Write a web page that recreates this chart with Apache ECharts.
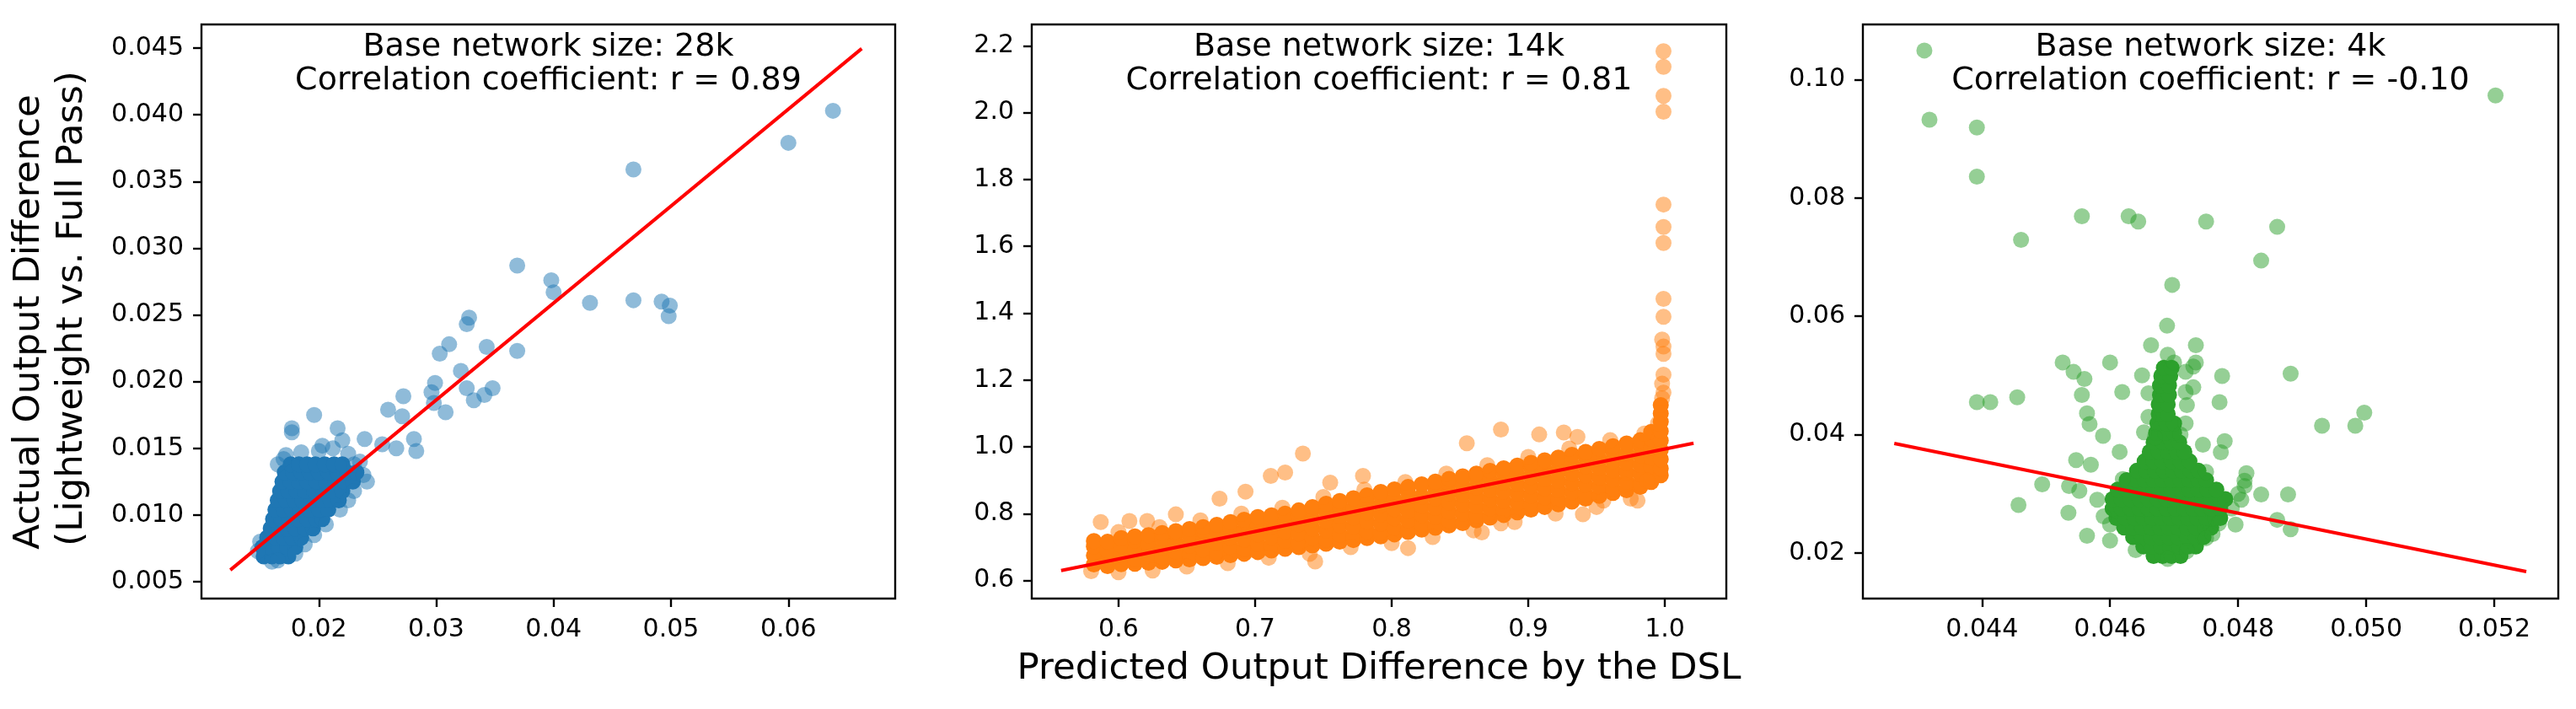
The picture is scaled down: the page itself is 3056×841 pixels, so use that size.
<!DOCTYPE html>
<html>
<head>
<meta charset="utf-8">
<script src="https://cdn.jsdelivr.net/npm/echarts@6/dist/echarts.min.js"></script>
<style>
  html, body { margin: 0; padding: 0; background: #fff; }
  #main { width: 3056px; height: 841px; }
</style>
</head>
<body>
<div id="main"></div>
<script>
// ---- panel 1: 28k network (blue) ----
const p1XTicks = [0.02, 0.03, 0.04, 0.05, 0.06];
const p1YTicks = [0.005, 0.010, 0.015, 0.020, 0.025, 0.030, 0.035, 0.040, 0.045];
// dense blob, rows of [y, [x...]]
const p1CoreRows = [
  [0.0069, [0.0153, 0.0160, 0.0167, 0.0174]],
  [0.0076, [0.0152, 0.0159, 0.0166, 0.0173, 0.0180]],
  [0.0083, [0.0156, 0.0163, 0.0170, 0.0177, 0.0185]],
  [0.0090, [0.0159, 0.0166, 0.0173, 0.0180, 0.0188, 0.0195]],
  [0.0097, [0.0161, 0.0168, 0.0175, 0.0182, 0.0190, 0.0198, 0.0203]],
  [0.0104, [0.0163, 0.0170, 0.0177, 0.0184, 0.0192, 0.0200, 0.0208]],
  [0.0111, [0.0165, 0.0172, 0.0179, 0.0186, 0.0194, 0.0202, 0.0210, 0.0217]],
  [0.0118, [0.0167, 0.0174, 0.0181, 0.0188, 0.0196, 0.0204, 0.0212, 0.0220]],
  [0.0125, [0.0169, 0.0176, 0.0183, 0.0190, 0.0198, 0.0206, 0.0214, 0.0222, 0.0229]],
  [0.0132, [0.0171, 0.0178, 0.0185, 0.0192, 0.0200, 0.0208, 0.0216, 0.0224, 0.0232]],
  [0.0138, [0.0176, 0.0183, 0.0190, 0.0197, 0.0205, 0.0213, 0.0220]]
];
const p1Pts = [
  [0.0638, 0.0403], [0.0600, 0.0379], [0.0468, 0.0359], [0.0369, 0.0287], [0.0398, 0.0276],
  [0.0400, 0.0267], [0.0431, 0.0259], [0.0468, 0.0261], [0.0492, 0.0260], [0.0499, 0.0257],
  [0.0498, 0.0249], [0.0328, 0.0248], [0.0326, 0.0243], [0.0311, 0.0228], [0.0303, 0.0221],
  [0.0343, 0.0226], [0.0369, 0.0223], [0.0321, 0.0208], [0.0299, 0.0199], [0.0296, 0.0192],
  [0.0326, 0.0195], [0.0348, 0.0195], [0.0341, 0.0190], [0.0332, 0.0186], [0.0298, 0.0184],
  [0.0308, 0.0177], [0.0272, 0.0189], [0.0259, 0.0179], [0.0271, 0.0174], [0.0196, 0.0175],
  [0.0216, 0.0165], [0.0177, 0.0165], [0.0177, 0.0162], [0.0239, 0.0157], [0.0203, 0.0152],
  [0.0220, 0.0156], [0.0254, 0.0153], [0.0266, 0.0150], [0.0281, 0.0157], [0.0283, 0.0148],
  [0.0230, 0.0138], [0.0241, 0.0125], [0.0225, 0.0111],
  [0.0172, 0.0145], [0.0185, 0.0147], [0.0200, 0.0148], [0.0212, 0.0150], [0.0225, 0.0146],
  [0.0235, 0.0140], [0.0238, 0.0130], [0.0230, 0.0118], [0.0218, 0.0104], [0.0206, 0.0093],
  [0.0196, 0.0085], [0.0188, 0.0078], [0.0180, 0.0071], [0.0148, 0.0073], [0.0150, 0.0080],
  [0.0160, 0.0065], [0.0165, 0.0066], [0.0165, 0.0138], [0.0170, 0.0142]
];
const p1Fit = [[0.01246, 0.00588], [0.06625, 0.04496]];

// ---- panel 2: 14k network (orange) ----
const p2XTicks = [0.6, 0.7, 0.8, 0.9, 1.0];
const p2YTicks = [0.6, 0.8, 1.0, 1.2, 1.4, 1.6, 1.8, 2.0, 2.2];
// dense band, columns of [x, [y...]]
const p2CoreCols = [
  [0.582, [0.648, 0.675, 0.702, 0.718]],
  [0.592, [0.643, 0.661, 0.689, 0.716]],
  [0.602, [0.649, 0.677, 0.705, 0.727]],
  [0.612, [0.650, 0.664, 0.692, 0.720, 0.732]],
  [0.622, [0.653, 0.680, 0.708, 0.736]],
  [0.632, [0.656, 0.670, 0.698, 0.726, 0.742]],
  [0.642, [0.660, 0.686, 0.714, 0.742, 0.748]],
  [0.652, [0.663, 0.677, 0.705, 0.733, 0.754]],
  [0.662, [0.667, 0.693, 0.721, 0.749, 0.760]],
  [0.672, [0.671, 0.685, 0.713, 0.741, 0.767]],
  [0.682, [0.676, 0.701, 0.729, 0.757, 0.775]],
  [0.692, [0.680, 0.694, 0.722, 0.750, 0.778, 0.782]],
  [0.702, [0.685, 0.710, 0.738, 0.766, 0.790]],
  [0.712, [0.690, 0.703, 0.731, 0.759, 0.787, 0.795]],
  [0.722, [0.695, 0.719, 0.747, 0.775, 0.800]],
  [0.732, [0.700, 0.712, 0.740, 0.768, 0.796, 0.810]],
  [0.742, [0.705, 0.728, 0.756, 0.784, 0.812, 0.820]],
  [0.752, [0.710, 0.722, 0.750, 0.778, 0.806, 0.830]],
  [0.762, [0.716, 0.738, 0.766, 0.794, 0.822, 0.838]],
  [0.772, [0.721, 0.732, 0.760, 0.788, 0.816, 0.846]],
  [0.782, [0.727, 0.748, 0.776, 0.804, 0.832, 0.855]],
  [0.792, [0.732, 0.742, 0.770, 0.798, 0.826, 0.854, 0.865]],
  [0.802, [0.738, 0.758, 0.786, 0.814, 0.842, 0.873]],
  [0.812, [0.745, 0.752, 0.780, 0.808, 0.836, 0.864, 0.880]],
  [0.822, [0.752, 0.768, 0.796, 0.824, 0.852, 0.888]],
  [0.832, [0.758, 0.762, 0.790, 0.818, 0.846, 0.874, 0.896]],
  [0.842, [0.765, 0.778, 0.806, 0.834, 0.862, 0.890, 0.904]],
  [0.852, [0.772, 0.800, 0.828, 0.856, 0.884, 0.912]],
  [0.862, [0.780, 0.794, 0.822, 0.850, 0.878, 0.906, 0.920]],
  [0.872, [0.788, 0.816, 0.844, 0.872, 0.900, 0.928]],
  [0.882, [0.796, 0.810, 0.838, 0.866, 0.894, 0.922, 0.936]],
  [0.892, [0.804, 0.832, 0.860, 0.888, 0.916, 0.944]],
  [0.902, [0.812, 0.826, 0.854, 0.882, 0.910, 0.938, 0.952]],
  [0.912, [0.820, 0.848, 0.876, 0.904, 0.932, 0.960]],
  [0.922, [0.828, 0.842, 0.870, 0.898, 0.926, 0.954, 0.968]],
  [0.932, [0.836, 0.864, 0.892, 0.920, 0.948, 0.976]],
  [0.942, [0.845, 0.858, 0.886, 0.914, 0.942, 0.970, 0.985]],
  [0.952, [0.853, 0.880, 0.908, 0.936, 0.964, 0.994]],
  [0.962, [0.862, 0.874, 0.902, 0.930, 0.958, 0.986, 1.002]],
  [0.972, [0.870, 0.896, 0.924, 0.952, 0.980, 1.010]],
  [0.982, [0.880, 0.890, 0.918, 0.946, 0.974, 1.002, 1.020]],
  [0.990, [0.895, 0.912, 0.940, 0.968, 0.996, 1.024, 1.045]],
  [0.997, [0.915, 0.935, 0.963, 0.991, 1.019, 1.047, 1.075, 1.100, 1.125]]
];
const p2Pts = [
  [0.999, 2.184], [0.999, 2.137], [0.999, 2.050], [0.999, 2.003], [0.999, 1.725],
  [0.999, 1.658], [0.999, 1.610], [0.999, 1.443], [0.999, 1.389], [0.998, 1.321],
  [0.999, 1.300], [0.999, 1.278], [0.999, 1.216], [0.998, 1.189], [0.999, 1.162], [0.998, 1.145],
  [0.735, 0.980], [0.722, 0.923], [0.7115, 0.913], [0.693, 0.866], [0.855, 1.011],
  [0.880, 1.052], [0.908, 1.037], [0.926, 1.043], [0.936, 1.030], [0.587, 0.775],
  [0.608, 0.778], [0.621, 0.778], [0.642, 0.798], [0.674, 0.845], [0.755, 0.893],
  [0.779, 0.913], [0.744, 0.657], [0.812, 0.697], [0.866, 0.744], [0.880, 0.771],
  [0.940, 0.798], [0.955, 0.839], [0.971, 0.886], [0.980, 0.839], [0.987, 0.899],
  [0.580, 0.628], [0.600, 0.625], [0.625, 0.630], [0.650, 0.642], [0.680, 0.652],
  [0.710, 0.668], [0.740, 0.680], [0.770, 0.700], [0.800, 0.712], [0.830, 0.730],
  [0.860, 0.750], [0.890, 0.775], [0.920, 0.800], [0.950, 0.820], [0.975, 0.845],
  [0.600, 0.745], [0.630, 0.760], [0.660, 0.780], [0.690, 0.800], [0.720, 0.818],
  [0.750, 0.850], [0.780, 0.872], [0.810, 0.895], [0.840, 0.920], [0.870, 0.945],
  [0.900, 0.970], [0.930, 0.995], [0.960, 1.020], [0.985, 1.040], [0.995, 1.070]
];
const p2Fit = [[0.558, 0.630], [1.021, 1.011]];

// ---- panel 3: 4k network (green) ----
const p3XTicks = [0.044, 0.046, 0.048, 0.050, 0.052];
const p3YTicks = [0.02, 0.04, 0.06, 0.08, 0.10];
const p3CoreRows = [
  [0.0195, [0.04668, 0.04682, 0.04696, 0.04710]],
  [0.0211, [0.04652, 0.04666, 0.04680, 0.04694, 0.04708, 0.04722, 0.04734]],
  [0.0227, [0.04636, 0.04650, 0.04664, 0.04678, 0.04692, 0.04706, 0.04720, 0.04734, 0.04746]],
  [0.0243, [0.04622, 0.04636, 0.04650, 0.04664, 0.04678, 0.04692, 0.04706, 0.04720, 0.04734, 0.04748, 0.04758]],
  [0.0259, [0.04610, 0.04624, 0.04638, 0.04652, 0.04666, 0.04680, 0.04694, 0.04708, 0.04722, 0.04736, 0.04750, 0.04764, 0.04772]],
  [0.0275, [0.04604, 0.04618, 0.04632, 0.04646, 0.04660, 0.04674, 0.04688, 0.04702, 0.04716, 0.04730, 0.04744, 0.04758, 0.04772]],
  [0.0291, [0.04604, 0.04618, 0.04632, 0.04646, 0.04660, 0.04674, 0.04688, 0.04702, 0.04716, 0.04730, 0.04744, 0.04758, 0.04772, 0.04780]],
  [0.0307, [0.04612, 0.04626, 0.04640, 0.04654, 0.04668, 0.04682, 0.04696, 0.04710, 0.04724, 0.04738, 0.04752, 0.04766]],
  [0.0323, [0.04626, 0.04640, 0.04654, 0.04668, 0.04682, 0.04696, 0.04710, 0.04724, 0.04738, 0.04750]],
  [0.0339, [0.04642, 0.04656, 0.04670, 0.04684, 0.04698, 0.04712, 0.04726, 0.04738]],
  [0.0355, [0.04654, 0.04668, 0.04682, 0.04696, 0.04710, 0.04724]],
  [0.0371, [0.04662, 0.04676, 0.04690, 0.04704, 0.04716]],
  [0.0387, [0.04668, 0.04682, 0.04696, 0.04708]],
  [0.0403, [0.04672, 0.04686, 0.04700]],
  [0.0419, [0.04674, 0.04688, 0.04700]],
  [0.0435, [0.04676, 0.04690]],
  [0.0451, [0.04676, 0.04690]],
  [0.0467, [0.04678, 0.04692]],
  [0.0483, [0.04678, 0.04692]],
  [0.0499, [0.04680, 0.04694]],
  [0.0513, [0.04684, 0.04696]]
];
const p3Pts = [
  [0.04310, 0.1049], [0.04318, 0.0932], [0.04392, 0.0919], [0.04392, 0.0836], [0.04556, 0.0769],
  [0.04461, 0.0729], [0.04629, 0.0769], [0.04644, 0.0760], [0.04750, 0.0760], [0.04861, 0.0751],
  [0.04836, 0.0694], [0.04697, 0.0653], [0.05202, 0.0973], [0.04689, 0.0584], [0.04664, 0.0551],
  [0.04734, 0.0551], [0.04526, 0.0522], [0.04543, 0.0506], [0.04560, 0.0494], [0.04600, 0.0522],
  [0.04734, 0.0522], [0.04718, 0.0506], [0.04775, 0.0499], [0.04882, 0.0503], [0.04392, 0.0455],
  [0.04413, 0.0455], [0.04455, 0.0463], [0.04556, 0.0467], [0.04619, 0.0472], [0.04718, 0.0472],
  [0.04771, 0.0455], [0.04564, 0.0436], [0.04568, 0.0418], [0.04589, 0.0398], [0.04718, 0.0419],
  [0.04653, 0.0404], [0.04931, 0.0415], [0.04983, 0.0415], [0.04997, 0.0437], [0.04745, 0.0383],
  [0.04779, 0.0389], [0.04773, 0.0370], [0.04615, 0.0371], [0.04547, 0.0357], [0.04570, 0.0349],
  [0.04494, 0.0316], [0.04536, 0.0313], [0.04552, 0.0305], [0.04457, 0.0281], [0.04535, 0.0268],
  [0.04564, 0.0229], [0.04600, 0.0221], [0.04836, 0.0299], [0.04878, 0.0299], [0.04861, 0.0256],
  [0.04882, 0.0240], [0.04796, 0.0248], [0.04813, 0.0335], [0.04810, 0.0313], [0.04750, 0.0225],
  [0.04590, 0.0262], [0.04580, 0.0290], [0.04600, 0.0248], [0.04800, 0.0300], [0.04790, 0.0275],
  [0.04770, 0.0250], [0.04760, 0.0232], [0.04720, 0.0203], [0.04640, 0.0205], [0.04750, 0.0337],
  [0.04620, 0.0325], [0.04670, 0.0395], [0.04710, 0.0400], [0.04660, 0.0430], [0.04720, 0.0450],
  [0.04700, 0.0522], [0.04690, 0.0535], [0.04730, 0.0515], [0.04650, 0.0500], [0.04730, 0.0480],
  [0.04660, 0.0470], [0.04690, 0.0190], [0.04810, 0.0322], [0.04805, 0.0290]
];
const p3Fit = [[0.04263, 0.0385], [0.0525, 0.01687]];

const rowsToPts = rows => rows.flatMap(([y, xs]) => xs.map(x => [x, y]));
const colsToPts = cols => cols.flatMap(([x, ys]) => ys.map(y => [x, y]));

const FONT = 'DejaVu Sans';
const TOP = 29, HEIGHT = 681;

const panels = [
  { left: 239, width: 823, color: '#1f77b4', xr: [0.0100, 0.0691], yr: [0.00374, 0.04677],
    xTicks: p1XTicks, yTicks: p1YTicks, xDec: 2, yDec: 3,
    core: rowsToPts(p1CoreRows), pts: p1Pts, fit: p1Fit,
    note: 'Base network size: 28k\nCorrelation coefficient: r = 0.89' },
  { left: 1224, width: 824, color: '#ff7f0e', xr: [0.5365, 1.045], yr: [0.546, 2.264],
    xTicks: p2XTicks, yTicks: p2YTicks, xDec: 1, yDec: 1,
    core: colsToPts(p2CoreCols), pts: p2Pts, fit: p2Fit,
    note: 'Base network size: 14k\nCorrelation coefficient: r = 0.81' },
  { left: 2210, width: 825, color: '#2ca02c', xr: [0.04214, 0.0530], yr: [0.0123, 0.1093],
    xTicks: p3XTicks, yTicks: p3YTicks, xDec: 3, yDec: 2,
    core: rowsToPts(p3CoreRows), pts: p3Pts, fit: p3Fit,
    note: 'Base network size: 4k\nCorrelation coefficient: r = -0.10' }
];

const tickStyle = { color: '#000', width: 2.4 };
const labelStyle = { fontFamily: FONT, fontSize: 30, lineHeight: 30, color: '#000' };
const yLabelStyle = { fontFamily: FONT, fontSize: 43.5, fill: '#000', align: 'center', verticalAlign: 'middle' };

const option = {
  animation: false,
  backgroundColor: '#fff',
  grid: panels.map(p => ({
    left: p.left, top: TOP, width: p.width, height: HEIGHT,
    show: true, borderColor: '#000', borderWidth: 2.4, backgroundColor: 'transparent'
  })),
  xAxis: panels.map((p, i) => ({
    type: 'value', gridIndex: i, min: p.xr[0], max: p.xr[1],
    axisLine: { show: false }, splitLine: { show: false },
    axisTick: { show: true, length: 10, lineStyle: tickStyle, customValues: p.xTicks },
    axisLabel: Object.assign({ margin: 22, customValues: p.xTicks,
      formatter: v => v.toFixed(p.xDec) }, labelStyle),
    name: i === 1 ? 'Predicted Output Difference by the DSL' : '',
    nameLocation: 'middle', nameGap: 58,
    nameTextStyle: { fontFamily: FONT, fontSize: 43.5, lineHeight: 52, color: '#000' }
  })),
  yAxis: panels.map((p, i) => ({
    type: 'value', gridIndex: i, min: p.yr[0], max: p.yr[1],
    axisLine: { show: false }, splitLine: { show: false },
    axisTick: { show: true, length: 10, lineStyle: tickStyle, customValues: p.yTicks },
    axisLabel: Object.assign({ margin: 21, customValues: p.yTicks,
      formatter: v => v.toFixed(p.yDec) }, labelStyle)
  })),
  graphic: panels.map(p => ({
    type: 'text', x: p.left + p.width / 2, y: 36, silent: true,
    style: { text: p.note, fontFamily: FONT, fontSize: 38, lineHeight: 40,
      fill: '#000', align: 'center', verticalAlign: 'top' }
  })).concat([
    // two-line y label of the first panel
    { type: 'text', x: 35, y: 382, rotation: Math.PI / 2, silent: true,
      style: Object.assign({ text: 'Actual Output Difference' }, yLabelStyle) },
    { type: 'text', x: 86, y: 366, rotation: Math.PI / 2, silent: true,
      style: Object.assign({ text: '(Lightweight vs. Full Pass)' }, yLabelStyle) }
  ]),
  series: panels.flatMap((p, i) => [
    { type: 'scatter', xAxisIndex: i, yAxisIndex: i, data: p.core, symbolSize: 19, silent: true,
      itemStyle: { color: p.color, opacity: 1 }, z: 2 },
    { type: 'scatter', xAxisIndex: i, yAxisIndex: i, data: p.pts, symbolSize: 19, silent: true,
      itemStyle: { color: p.color, opacity: 0.5 }, z: 2 },
    { type: 'line', xAxisIndex: i, yAxisIndex: i, data: p.fit, showSymbol: false, silent: true,
      lineStyle: { color: '#ff0000', width: 4 }, z: 3 }
  ])
};

const chart = echarts.init(document.getElementById('main'), null, { renderer: 'canvas' });
chart.setOption(option);
</script>
</body>
</html>
